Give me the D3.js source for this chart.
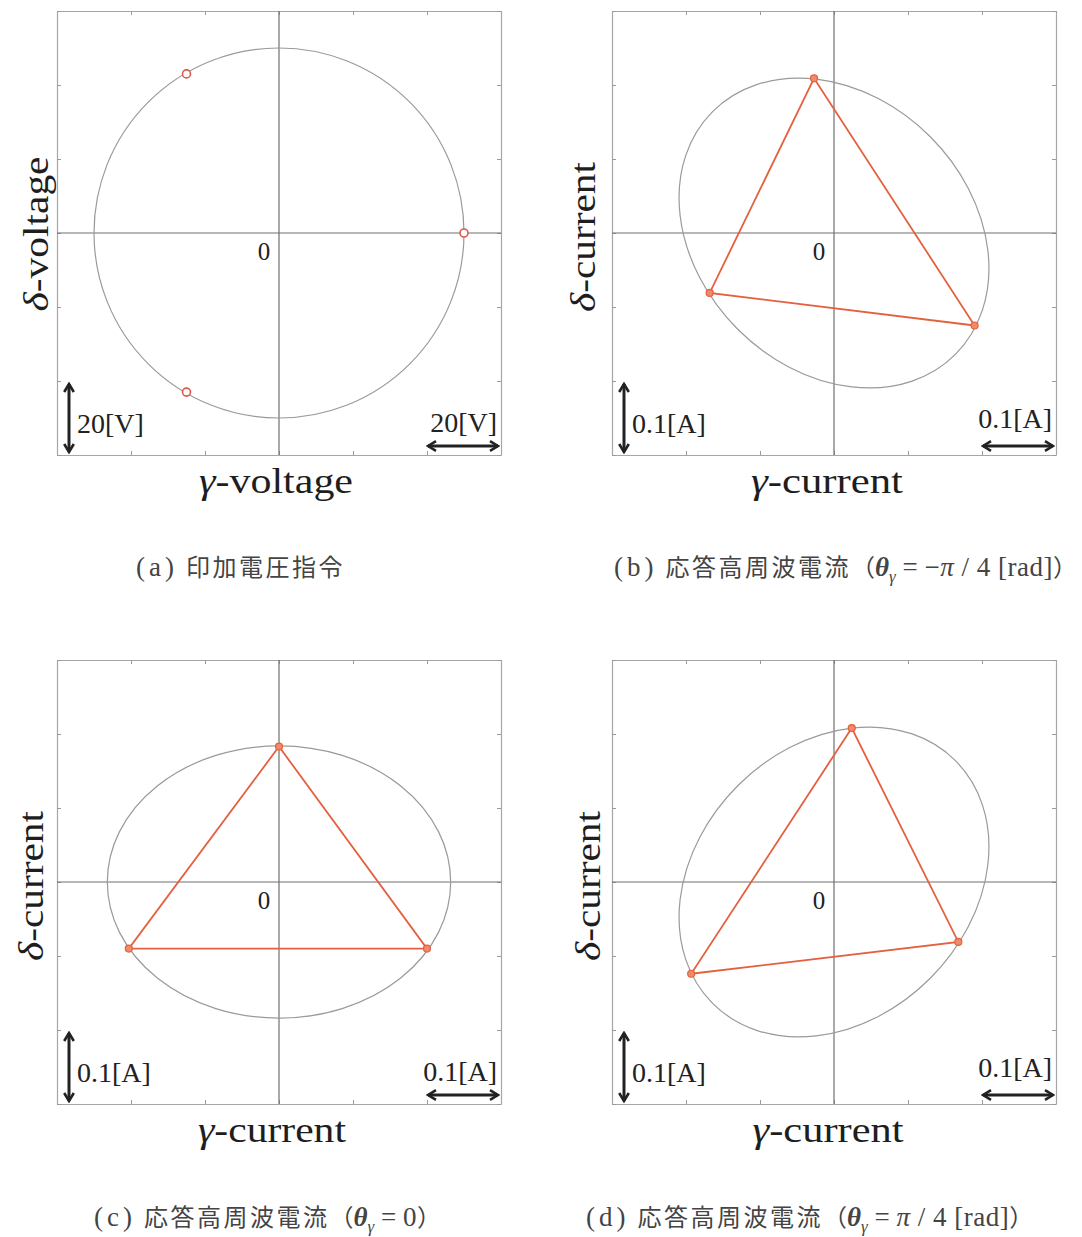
<!DOCTYPE html>
<html><head><meta charset="utf-8">
<script src="https://cdn.jsdelivr.net/npm/d3@7"></script>
<style>html,body{margin:0;padding:0;background:#fff;} svg{display:block}</style>
</head><body>
<svg id="chart" width="1082" height="1237"></svg>
<script>
// ---------------- data ----------------
const voltageTicks = [-60, -40, -20, 0, 20, 40, 60];
const currentTicks = [-0.3, -0.2, -0.1, 0, 0.1, 0.2, 0.3];
const voltageCircleRadius = [50];
const voltageGamma = [50, -25, -25];
const voltageDelta = [0, 43, -43];
const ellipseMajor = [0.232, 0.232, 0.232];   // panels b, c, d  [A]
const ellipseMinor = [0.184, 0.184, 0.184];
const ellipseTiltDeg = [-45, 0, 45];
const currentGammaB = [-0.027, -0.168, 0.190];
const currentDeltaB = [0.209, -0.081, -0.125];
const currentGammaC = [0.000, -0.203, 0.200];
const currentDeltaC = [0.183, -0.090, -0.090];
const currentGammaD = [0.024, -0.193, 0.168];
const currentDeltaD = [0.208, -0.124, -0.081];
const axisWords = ["voltage", "current", "current", "current"];
const scaleLabels = ["20[V]", "0.1[A]", "0.1[A]", "0.1[A]"];
const captionLetters = ["(a)", "(b)", "(c)", "(d)"];
const captionTexts = ["印加電圧指令", "応答高周波電流", "応答高周波電流", "応答高周波電流"];
const captionTheta = [null, [["−",0],["π",1],[" / 4 [rad]",0]], [["0",0]], [["π",1],[" / 4 [rad]",0]]];

// ---------------- layout ----------------
const svg = d3.select("#chart");
const S = 444;
const serif = "'Liberation Serif','Times New Roman',serif";
const cjk = "'Noto Sans CJK JP','Noto Sans CJK SC',sans-serif";
const layout = [
  {x0:57,  y0:11,  yLabX:48,  yLabY:234, xLabX:276, xLabY:493,  xLen:154, yLen:155, capX:136, capY:576},
  {x0:612, y0:11,  yLabX:595, yLabY:237, xLabX:827, xLabY:493,  xLen:152, yLen:150, capX:614, capY:576},
  {x0:57,  y0:660, yLabX:43,  yLabY:886, xLabX:272, xLabY:1142, xLen:148, yLen:150, capX:94,  capY:1226},
  {x0:612, y0:660, yLabX:600, yLabY:886, xLabX:828, xLabY:1142, xLen:151, yLen:150, capX:586, capY:1226}
];

const defs = svg.append("defs");
defs.append("marker").attr("id","chev").attr("viewBox","0 0 12 12")
  .attr("refX",10).attr("refY",6).attr("markerWidth",12).attr("markerHeight",12)
  .attr("markerUnits","userSpaceOnUse").attr("orient","auto-start-reverse")
  .append("path").attr("d","M2,1.2 L10,6 L2,10.8").attr("fill","none")
  .attr("stroke","#222").attr("stroke-width",2.6).attr("stroke-linejoin","miter");

function styleAxis(sel){
  sel.select(".domain").attr("stroke","#a6a6a6").attr("stroke-width",1.2);
  sel.selectAll(".tick line").attr("stroke","#9a9a9a").attr("stroke-width",1);
  sel.selectAll(".tick text").remove();
}

function drawPanel(i, ticks){
  const L = layout[i];
  const lo = ticks[0], hi = ticks[ticks.length-1];
  const x = d3.scaleLinear().domain([lo,hi]).range([L.x0, L.x0+S]);
  const y = d3.scaleLinear().domain([lo,hi]).range([L.y0+S, L.y0]);
  const g = svg.append("g");

  // frame with inward ticks
  g.append("g").attr("transform",`translate(0,${L.y0})`)
    .call(d3.axisBottom(x).tickValues(ticks).tickSize(4).tickSizeOuter(0).tickFormat("")).call(styleAxis);
  g.append("g").attr("transform",`translate(0,${L.y0+S})`)
    .call(d3.axisTop(x).tickValues(ticks).tickSize(4).tickSizeOuter(0).tickFormat("")).call(styleAxis);
  g.append("g").attr("transform",`translate(${L.x0},0)`)
    .call(d3.axisRight(y).tickValues(ticks).tickSize(4).tickSizeOuter(0).tickFormat("")).call(styleAxis);
  g.append("g").attr("transform",`translate(${L.x0+S},0)`)
    .call(d3.axisLeft(y).tickValues(ticks).tickSize(4).tickSizeOuter(0).tickFormat("")).call(styleAxis);

  // zero lines
  g.append("line").attr("x1",x(lo)).attr("x2",x(hi)).attr("y1",y(0)).attr("y2",y(0))
    .attr("stroke","#707070").attr("stroke-width",1.2);
  g.append("line").attr("x1",x(0)).attr("x2",x(0)).attr("y1",y(lo)).attr("y2",y(hi))
    .attr("stroke","#707070").attr("stroke-width",1.2);

  // zero label
  g.append("text").attr("x",x(0)-15).attr("y",y(0)+27).attr("text-anchor","middle")
    .attr("font-family",serif).attr("font-size",25).attr("fill","#222").text("0");

  // scale arrows
  g.append("line").attr("x1",L.x0+12).attr("x2",L.x0+12)
    .attr("y1",y(ticks[0])-3).attr("y2",y(ticks[1])+3)
    .attr("stroke","#222").attr("stroke-width",3)
    .attr("marker-start","url(#chev)").attr("marker-end","url(#chev)");
  g.append("line").attr("x1",x(ticks[5])+1).attr("x2",x(ticks[6])-3)
    .attr("y1",L.y0+S-9).attr("y2",L.y0+S-9)
    .attr("stroke","#222").attr("stroke-width",3)
    .attr("marker-start","url(#chev)").attr("marker-end","url(#chev)");
  g.append("text").attr("x",L.x0+20).attr("y",L.y0+S-22)
    .attr("font-family",serif).attr("font-size",28).attr("fill","#222").text(scaleLabels[i]);
  g.append("text").attr("x",L.x0+S-4).attr("y",L.y0+S-(i%2? 27:23)).attr("text-anchor","end")
    .attr("font-family",serif).attr("font-size",28).attr("fill","#222").text(scaleLabels[i]);

  // axis labels
  const xl = svg.append("text").attr("x",L.xLabX).attr("y",L.xLabY).attr("text-anchor","middle")
    .attr("font-family",serif).attr("font-size",36).attr("fill","#1e1e1e")
    .attr("textLength",L.xLen).attr("lengthAdjust","spacingAndGlyphs");
  xl.append("tspan").attr("font-style","italic").text("γ");
  xl.append("tspan").text("-"+axisWords[i]);
  const yl = svg.append("text").attr("transform",`translate(${L.yLabX},${L.yLabY}) rotate(-90)`)
    .attr("text-anchor","middle").attr("font-family",serif).attr("font-size",36).attr("fill","#1e1e1e")
    .attr("textLength",L.yLen).attr("lengthAdjust","spacingAndGlyphs");
  yl.append("tspan").attr("font-style","italic").text("δ");
  yl.append("tspan").text("-"+axisWords[i]);

  // caption
  const cap = svg.append("text").attr("x",L.capX).attr("y",L.capY).attr("fill","#444").attr("font-size",24);
  cap.append("tspan").attr("font-family",serif).attr("font-size",27).attr("letter-spacing",4).text(captionLetters[i]);
  cap.append("tspan").attr("dx",8).attr("font-family",cjk).attr("letter-spacing",2.5).text(captionTexts[i]);
  if (captionTheta[i]) {
    cap.append("tspan").attr("font-family",cjk).text("（");
    cap.append("tspan").attr("font-family",serif).attr("font-style","italic").attr("font-weight","bold").attr("font-size",27).text("θ");
    cap.append("tspan").attr("font-family",serif).attr("font-style","italic").attr("font-size",17).attr("dy",6).text("γ");
    cap.append("tspan").attr("font-family",serif).attr("font-size",27).attr("dy",-6).text(" = ");
    captionTheta[i].forEach(p => {
      cap.append("tspan").attr("font-family",serif).attr("font-size",27).attr("letter-spacing",0.5)
        .attr("font-style",p[1]?"italic":"normal").text(p[0]);
    });
    cap.append("tspan").attr("font-family",cjk).text("）");
  }
  return {g, x, y};
}

// panel (a)
const pa = drawPanel(0, voltageTicks);
pa.g.append("circle").attr("cx",pa.x(0)).attr("cy",pa.y(0))
  .attr("r",pa.x(voltageCircleRadius[0])-pa.x(0))
  .attr("fill","none").attr("stroke","#9a9a9a").attr("stroke-width",1.2);
pa.g.selectAll("circle.vm").data(d3.range(voltageGamma.length)).join("circle").attr("class","vm")
  .attr("cx",k=>pa.x(voltageGamma[k])).attr("cy",k=>pa.y(voltageDelta[k])).attr("r",4)
  .attr("fill","#fff").attr("stroke","#e0584c").attr("stroke-width",1.6);

// current panels
const curG = [currentGammaB, currentGammaC, currentGammaD];
const curD = [currentDeltaB, currentDeltaC, currentDeltaD];
[1,2,3].forEach((pi, j) => {
  const p = drawPanel(pi, currentTicks);
  p.g.append("ellipse").attr("cx",p.x(0)).attr("cy",p.y(0))
    .attr("rx",p.x(ellipseMajor[j])-p.x(0)).attr("ry",p.y(0)-p.y(ellipseMinor[j]))
    .attr("transform",`rotate(${-ellipseTiltDeg[j]},${p.x(0)},${p.y(0)})`)
    .attr("fill","none").attr("stroke","#9a9a9a").attr("stroke-width",1.2);
  const pts = d3.range(curG[j].length).map(k => [curG[j][k], curD[j][k]]);
  p.g.append("path").datum(pts)
    .attr("d", d3.line().x(d=>p.x(d[0])).y(d=>p.y(d[1])).curve(d3.curveLinearClosed))
    .attr("fill","none").attr("stroke","#e4603e").attr("stroke-width",1.8);
  p.g.selectAll("circle.cm").data(pts).join("circle").attr("class","cm")
    .attr("cx",d=>p.x(d[0])).attr("cy",d=>p.y(d[1])).attr("r",3.5)
    .attr("fill","#ef8a6c").attr("stroke","#e4603e").attr("stroke-width",1.2);
});
</script>
</body></html>
